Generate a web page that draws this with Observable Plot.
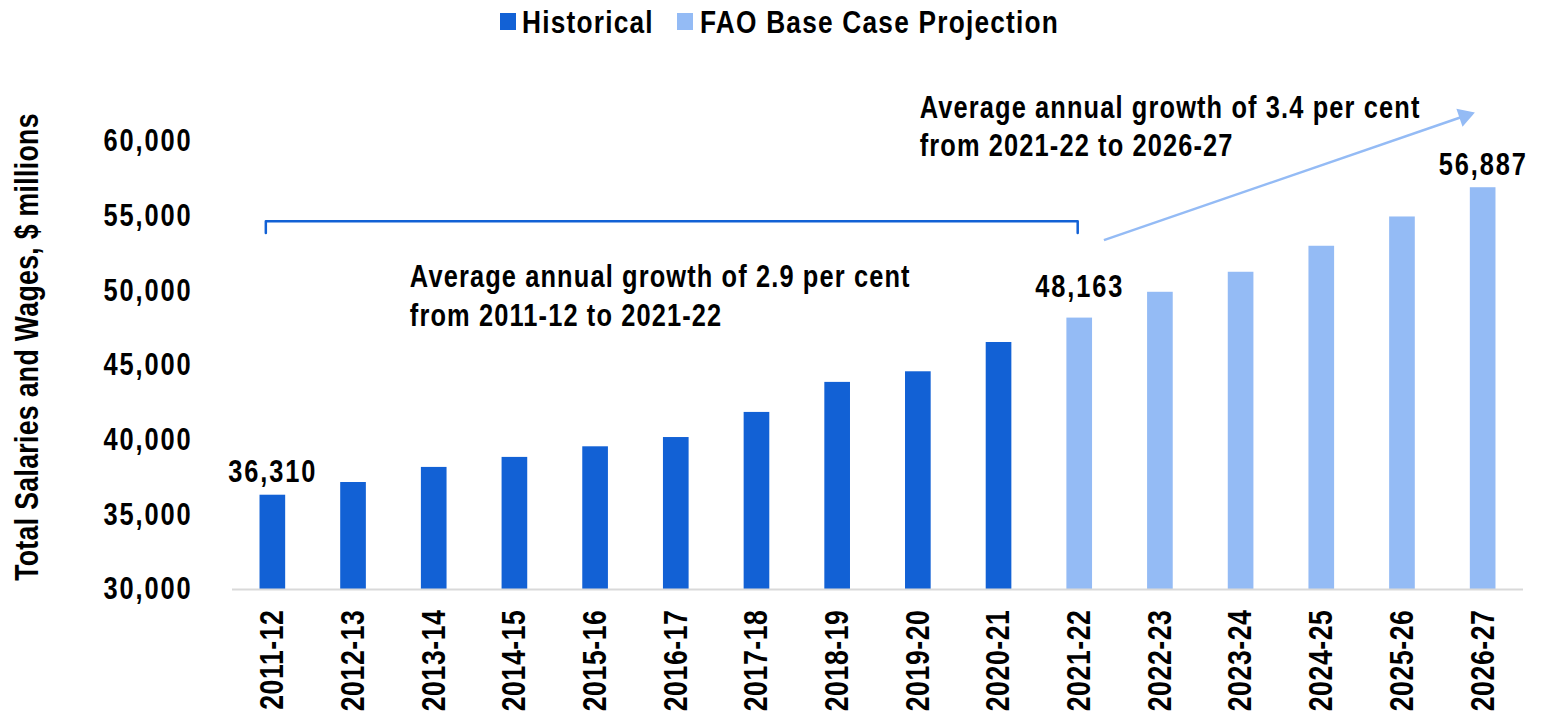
<!DOCTYPE html>
<html>
<head>
<meta charset="utf-8">
<script src="https://cdn.jsdelivr.net/npm/d3@7"></script>
<script src="https://cdn.jsdelivr.net/npm/@observablehq/plot@0.6"></script>
<style>
html, body { margin: 0; padding: 0; background: #fff; overflow: hidden; width: 1541px; height: 718px; }
body { font-family: "Liberation Sans", Arial, sans-serif; font-weight: bold; color: #000; }
#legend { position: relative; height: 44px; width: 1541px; }
.sw { position: absolute; top: 13px; width: 16px; height: 17px; }
.lbl { position: absolute; top: 4px; font-size: 32px; line-height: 36px; letter-spacing: 1.5px; white-space: nowrap; transform: scaleX(0.82); transform-origin: 0 0; }
#chart svg { display: block; }
#chart g[aria-label="y-axis tick label"] text { letter-spacing: 2.3px; }
#chart g[aria-label="x-axis tick label"] text { letter-spacing: 0.7px; }
</style>
</head>
<body>
<div id="legend"></div>
<div id="chart"></div>
<script>
// ---- data ----
const years = ["2011-12","2012-13","2013-14","2014-15","2015-16","2016-17","2017-18","2018-19",
               "2019-20","2020-21","2021-22","2022-23","2023-24","2024-25","2025-26","2026-27"];
const values = [36310, 37160, 38170, 38840, 39550, 40170, 41850, 43860,
                44570, 46530, 48163, 49890, 51230, 52970, 54930, 56887];
const seriesOf = ["Historical","Historical","Historical","Historical","Historical","Historical","Historical","Historical",
                  "Historical","Historical","FAO Base Case Projection","FAO Base Case Projection","FAO Base Case Projection",
                  "FAO Base Case Projection","FAO Base Case Projection","FAO Base Case Projection"];
const seriesNames = ["Historical", "FAO Base Case Projection"];
const yTicks = [30000, 35000, 40000, 45000, 50000, 55000, 60000];
const labelledYears = ["2011-12", "2021-22", "2026-27"];
const yTitle = "Total Salaries and Wages, $ millions";
const note1 = "Average annual growth of 2.9 per cent\nfrom 2011-12 to 2021-22";
const note2 = "Average annual growth of 3.4 per cent\nfrom 2021-22 to 2026-27";

const rows = years.map((year, i) => ({i, year, value: values[i], series: seriesOf[i]}));
const colors = ["#1261d5", "#94bbf5"];
const fmt = d3.format(",");

// ---- legend ----
const legend = document.getElementById("legend");
const swLeft = [500, 677], lblLeft = [522, 700];
seriesNames.forEach((name, k) => {
  const sw = document.createElement("div");
  sw.className = "sw";
  sw.style.left = swLeft[k] + "px";
  sw.style.background = colors[k];
  legend.appendChild(sw);
  const lbl = document.createElement("div");
  lbl.className = "lbl";
  lbl.style.left = lblLeft[k] + "px";
  lbl.textContent = name;
  legend.appendChild(lbl);
});

// ---- chart ----
const half = 0.159;
const chart = Plot.plot({
  width: 1541,
  height: 674,
  marginTop: 22,
  marginBottom: 129,
  marginLeft: 232,
  marginRight: 18,
  x: {type: "linear", domain: [-0.5, 15.5], axis: null},
  y: {domain: [30000, 65000], axis: null},
  color: {domain: seriesNames, range: colors},
  style: {fontFamily: '"Liberation Sans", Arial, sans-serif', fontWeight: "bold", fontSize: "31px", color: "#000", background: "#fff"},
  marks: [
    Plot.rectY(rows, {x1: d => d.i - half, x2: d => d.i + half, y1: 30000, y2: "value", fill: "series"}),
    Plot.ruleY([30000], {stroke: "#d9d9d9", strokeWidth: 2}),
    Plot.axisY({ticks: yTicks, tickSize: 0, tickPadding: 40, tickFormat: fmt, fontSize: 31, label: null}),
    Plot.axisX({ticks: d3.range(years.length), tickFormat: i => years[i], tickRotate: -90, tickSize: 0, tickPadding: 20, fontSize: 32.5, label: null}),
    Plot.text([yTitle], {frameAnchor: "left", textAnchor: "middle", dx: -205, dy: 19, rotate: -90, text: d => d, fontSize: 32.5}),
    Plot.text(rows.filter(d => labelledYears.includes(d.year) && d.year !== "2021-22"),
      {x: "i", y: "value", text: d => fmt(d.value), dy: -23, fontSize: 31}),
    Plot.text(rows.filter(d => d.year === "2021-22"),
      {x: "i", y: "value", text: d => fmt(d.value), dy: -31, fontSize: 31}),
    // bracket over the historical period
    Plot.line([[-0.087, 53850], [-0.087, 54650], [9.975, 54650], [9.975, 53850]],
      {x: d => d[0], y: d => d[1], stroke: colors[0], strokeWidth: 2.5, strokeLinejoin: "round"}),
    Plot.text([note1], {x: 1.698, y: 52040, text: d => d, textAnchor: "start", lineAnchor: "top", lineHeight: 1.24, fontSize: 31}),
    // projection arrow
    Plot.link([0], {x1: 10.3, y1: 53380, x2: 14.77, y2: 61690, stroke: colors[1], strokeWidth: 2.5}),
    Plot.dot([0], {x: 14.77, y: 61690, symbol: "triangle", r: 7, fill: colors[1], stroke: "none", rotate: 71}),
    Plot.text([note2], {x: 8.017, y: 63380, text: d => d, textAnchor: "start", lineAnchor: "top", lineHeight: 1.24, fontSize: 31})
  ]
});
document.getElementById("chart").appendChild(chart);

// narrow the glyphs horizontally (no condensed face is installed)
const SX = 0.82;
chart.querySelectorAll('g[aria-label="text"] text').forEach(t => {
  const s = t.textContent;
  t.style.letterSpacing = s === yTitle ? "0.4px" : s.startsWith("Average") ? "1.37px" : "2.3px";
});
chart.querySelectorAll("text").forEach(t => {
  let x = parseFloat(t.getAttribute("x"));
  if (!isFinite(x) || /[a-z%]/i.test(t.getAttribute("x") || "")) x = 0;
  const tr = t.getAttribute("transform") || "";
  t.setAttribute("transform", `${tr} translate(${x},0) scale(${SX},1) translate(${-x},0)`);
});
</script>
</body>
</html>
